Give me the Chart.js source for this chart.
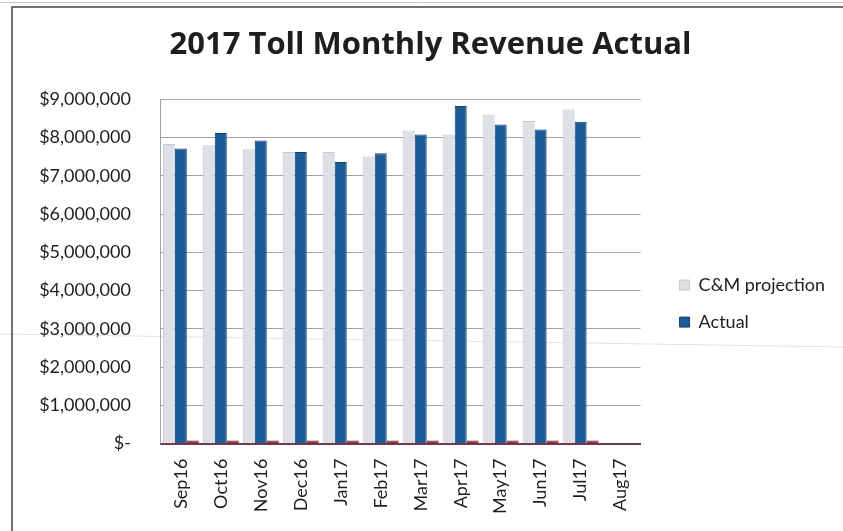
<!DOCTYPE html>
<html>
<head>
<meta charset="utf-8">
<script src="https://cdn.jsdelivr.net/npm/chart.js@4/dist/chart.umd.min.js"></script>
<style>
  html, body { margin: 0; padding: 0; background: #fff; }
  #wrap { width: 843px; height: 531px; }
</style>
</head>
<body>
<div id="wrap"><canvas id="tollChart" width="843" height="531"></canvas></div>
<script>
// monthly toll revenue, fiscal year Sep16 - Aug17
var months = ['Sep16', 'Oct16', 'Nov16', 'Dec16', 'Jan17', 'Feb17', 'Mar17', 'Apr17', 'May17', 'Jun17', 'Jul17', 'Aug17'];
var projection = [7830000, 7800000, 7690000, 7620000, 7620000, 7500000, 8180000, 8080000, 8600000, 8430000, 8730000, null];
var actual = [7710000, 8120000, 7920000, 7620000, 7360000, 7590000, 8080000, 8820000, 8340000, 8210000, 8410000, null];
var other = [80000, 80000, 80000, 80000, 80000, 80000, 80000, 80000, 80000, 80000, 80000, null];
var yTicks = ['$-', '$1,000,000', '$2,000,000', '$3,000,000', '$4,000,000', '$5,000,000', '$6,000,000', '$7,000,000', '$8,000,000', '$9,000,000'];

var FONT = 'Lato, "Open Sans", sans-serif';

// page frame + the faint fold line behind the chart
var pageFrame = {
  id: 'pageFrame',
  beforeDraw: function(chart) {
    var ctx = chart.ctx;
    ctx.save();
    ctx.fillStyle = '#fff';
    ctx.fillRect(0, 0, chart.width, chart.height);
    ctx.strokeStyle = '#e2e2e2';
    ctx.lineWidth = 1;
    ctx.beginPath();
    ctx.moveTo(0, 334);
    ctx.lineTo(chart.width, 347);
    ctx.stroke();
    ctx.strokeStyle = '#c8c8c8';
    ctx.beginPath();
    ctx.moveTo(0, 2.5);
    ctx.lineTo(chart.width, 2.5);
    ctx.stroke();
    ctx.strokeStyle = '#444';
    ctx.lineWidth = 1.5;
    ctx.beginPath();
    ctx.moveTo(12, chart.height);
    ctx.lineTo(12, 7);
    ctx.lineTo(chart.width, 7);
    ctx.stroke();
    ctx.restore();
  }
};

var ctx = document.getElementById('tollChart');
var chart = new Chart(ctx, {
  type: 'bar',
  data: {
    labels: months,
    datasets: [{
      label: 'C&M projection',
      data: projection,
      backgroundColor: '#dde1e6',
      borderColor: '#c3c8cf',
      borderWidth: 1
    }, {
      label: 'Actual',
      data: actual,
      backgroundColor: '#1c5b99',
      borderColor: '#123f6c',
      borderWidth: 1
    }, {
      label: 'Other',
      data: other,
      backgroundColor: '#9c2a38',
      borderColor: '#6e1e2a',
      borderWidth: 1
    }]
  },
  options: {
    responsive: false,
    animation: false,
    layout: {
      padding: { left: 26, right: 8, top: 10, bottom: 2 }
    },
    datasets: {
      bar: { barPercentage: 1.0, categoryPercentage: 0.9 }
    },
    plugins: {
      title: {
        display: true,
        text: '2017 Toll Monthly Revenue Actual',
        color: '#1e1e1e',
        font: { family: '"Open Sans", Lato, sans-serif', size: 31, weight: 'bold' },
        padding: { top: 17, bottom: 35 }
      },
      legend: {
        position: 'right',
        maxWidth: 220,
        // empty title only pushes the two entries down
        title: { display: true, text: '', font: { size: 1 }, padding: { top: 67, bottom: 0 } },
        labels: {
          color: '#1e1e1e',
          font: { family: FONT, size: 18 },
          boxWidth: 10,
          boxHeight: 10,
          padding: 19,
          filter: function(item) { return item.datasetIndex < 2; }
        }
      },
      tooltip: { enabled: false }
    },
    scales: {
      x: {
        grid: { display: false, drawTicks: false },
        border: { display: true, color: '#6e3a44', width: 2 },
        ticks: {
          color: '#1e1e1e',
          font: { family: FONT, size: 18 },
          minRotation: 90,
          maxRotation: 90,
          padding: 15,
          autoSkip: false
        }
      },
      y: {
        min: 0,
        max: 9000000,
        ticks: {
          stepSize: 1000000,
          color: '#1e1e1e',
          font: { family: FONT, size: 18 },
          padding: 30,
          callback: function(value, index) { return yTicks[index]; }
        },
        grid: { color: '#a3a3a3', drawTicks: false },
        border: { display: true, color: '#a3a3a3' }
      },
      gap: {
        position: 'right',
        display: true,
        grid: { display: false },
        border: { display: false },
        ticks: { display: false },
        afterFit: function(scale) { scale.width = 20; }
      }
    }
  },
  plugins: [pageFrame]
});
</script>
</body>
</html>
